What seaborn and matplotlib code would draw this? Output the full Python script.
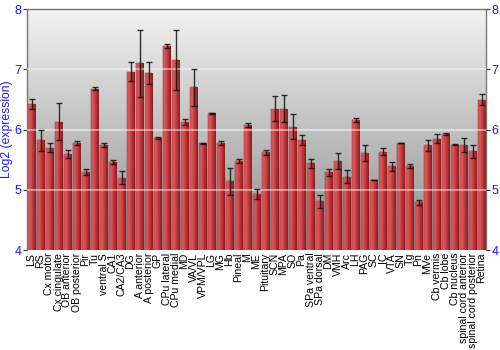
import matplotlib
matplotlib.use("Agg")
import matplotlib.pyplot as plt
import numpy as np
import pandas as pd
import seaborn as sns
from matplotlib.colors import LinearSegmentedColormap

regions = ["LS", "RS", "Cx motor", "Cx cingulate", "OB anterior", "OB posterior", "Pir", "Tu",
           "ventral S", "CA1", "CA2/CA3", "DG", "A anterior", "A posterior", "GP", "CPu lateral",
           "CPu medial", "MD", "VA/VL", "VPM/VPL", "LG", "MG", "Hb", "Pineal", "M", "ME",
           "Pituitary", "SCN", "MPA", "SO", "Pa", "SPa ventral", "SPa dorsal", "DM", "VMH", "Arc",
           "LH", "PAG", "SC", "IC", "VTA", "SN", "Tg", "Pn", "MVe", "Cb vermis", "Cb lobe",
           "Cb nucleus", "spinal cord anterior", "spinal cord posterior", "Retina"]
expression = [6.43, 5.82, 5.70, 6.13, 5.60, 5.78, 5.30, 6.68,
              5.74, 5.46, 5.20, 6.96, 7.10, 6.94, 5.86, 7.39,
              7.16, 6.13, 6.70, 5.77, 6.27, 5.78, 5.14, 5.48, 6.07, 4.93,
              5.62, 6.35, 6.35, 6.05, 5.83, 5.44, 4.81, 5.29, 5.48, 5.22,
              6.16, 5.61, 5.16, 5.63, 5.39, 5.78, 5.40, 4.79, 5.74, 5.85, 5.93,
              5.75, 5.74, 5.64, 6.50]
error = [0.08, 0.18, 0.07, 0.31, 0.065, 0.035, 0.05, 0.02,
         0.03, 0.035, 0.11, 0.16, 0.56, 0.19, 0.01, 0.03,
         0.50, 0.05, 0.30, 0.01, 0.01, 0.03, 0.22, 0.03, 0.035, 0.08,
         0.045, 0.20, 0.23, 0.21, 0.08, 0.08, 0.11, 0.06, 0.135, 0.11,
         0.035, 0.13, 0.005, 0.06, 0.08, 0.005, 0.03, 0.045, 0.09, 0.07, 0.02,
         0.005, 0.12, 0.11, 0.09]
yticks = [4, 5, 6, 7, 8]

df = pd.DataFrame({"region": regions, "expression": expression, "error": error})

sns.set_style("white")
plt.rcParams["font.family"] = ["Liberation Sans", "DejaVu Sans"]
fig = plt.figure(figsize=(5, 3.5), dpi=100)
ax = fig.add_axes([0.054, 0.2857, 0.918, 0.688])

# background gradient
bg = LinearSegmentedColormap.from_list("bg", ["#8e8e8e", "#f2f2f2"])
grad = np.linspace(0, 1, 256).reshape(-1, 1)
ax.imshow(grad, cmap=bg, aspect="auto", origin="lower",
          extent=[-0.5, len(regions) - 0.5, 4, 8], zorder=0)

sns.barplot(data=df, x="region", y="expression", color="#b83034", width=0.86,
            saturation=1, ax=ax, errorbar=None, zorder=2)

# glossy horizontal gradient on bars
barcm = LinearSegmentedColormap.from_list(
    "bar", ["#cc4a4d", "#d85a5c", "#c83f42", "#ae2d31", "#821c1f"])
hgrad = np.linspace(0, 1, 64).reshape(1, -1)
for p in ax.patches:
    x0, w = p.get_x(), p.get_width()
    h = p.get_height()
    im = ax.imshow(hgrad, cmap=barcm, aspect="auto",
                   extent=[x0, x0 + w, 4, h], zorder=2.5)
    im.set_clip_path(p)
    p.set_edgecolor("#7a1a1c")
    p.set_linewidth(0.3)

ax.errorbar(np.arange(len(regions)), df["expression"], yerr=df["error"], fmt="none",
            ecolor="#111111", elinewidth=1.0, capsize=2.2, capthick=1.0, alpha=0.85, zorder=4)

for yv in [5, 6, 7]:
    ax.axhline(yv, color="white", lw=1.2, alpha=0.55, zorder=3)

ax.set_xlim(-0.5, len(regions) - 0.5)
ax.set_ylim(4, 8)
ax.set_yticks(yticks)
ax.set_yticklabels([str(t) for t in yticks])
ax.set_xlabel("")
ax.set_ylabel("Log2 (expression)", color="#1a1aff", fontsize=8.7, labelpad=1)
ax.tick_params(axis="y", colors="#333333", labelcolor="#1a1aff", labelsize=9,
               length=3, width=0.8, pad=1, left=True, right=True, labelright=True)
ax.tick_params(axis="x", length=0, pad=2, labelsize=7.6, labelcolor="black")
plt.setp(ax.get_xticklabels(), rotation=90)

for s in ["top", "left", "right"]:
    ax.spines[s].set_color("#777777")
    ax.spines[s].set_linewidth(1.0)
    ax.spines[s].set_visible(True)
ax.spines["bottom"].set_visible(False)

fig.savefig("out.png", dpi=100)
